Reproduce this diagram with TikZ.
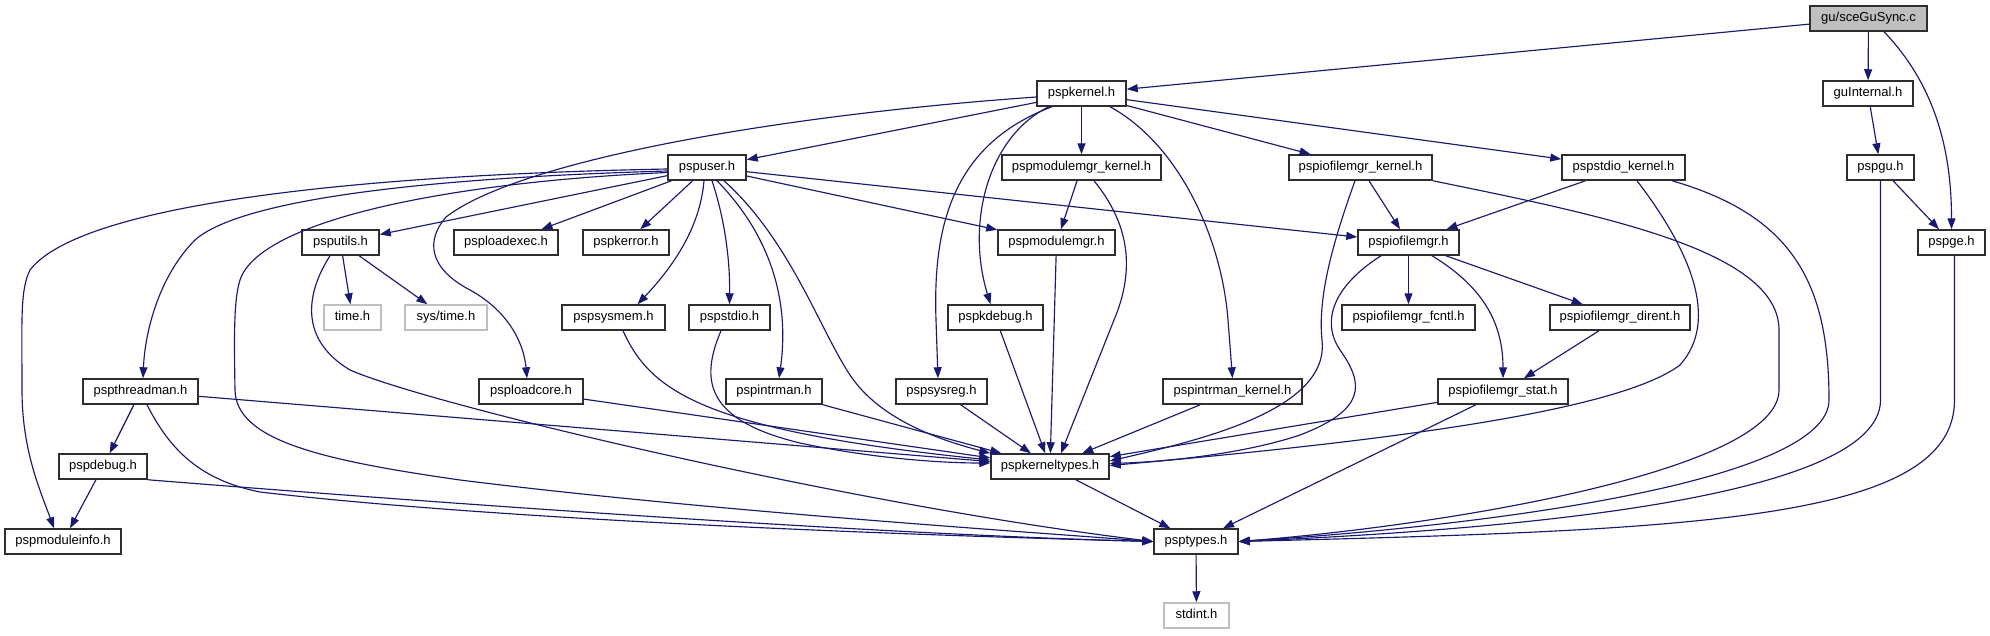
\documentclass[tikz,border=0pt]{standalone}
\usepackage{fontspec}
\setmainfont{Liberation Sans}
\usetikzlibrary{arrows.meta}
\definecolor{edgeblue}{HTML}{191970}
\definecolor{rootgray}{HTML}{BFBFBF}
\definecolor{boxline}{HTML}{2E2E2E}
\begin{document}
\begin{tikzpicture}[x=1pt,y=-1pt,
  box/.style={draw=boxline,line width=1.5pt,fill=white,minimum height=25pt,inner sep=0pt,
    font=\fontsize{13pt}{15pt}\selectfont,text height=9.4pt,text depth=2.7pt},
  extbox/.style={box,draw=rootgray},
  rootbox/.style={box,fill=rootgray},
  edge/.style={draw=edgeblue,line width=1.15pt,-{Triangle[length=11pt,width=8pt]}}]
\useasboundingbox (0,0) rectangle (1990,635);

% row 0
\node[rootbox,minimum width=117pt] (root) at (1868.5,18.5) {gu/sceGuSync.c};
% row 1
\node[box,minimum width=90pt] (guint) at (1868,93.5) {guInternal.h};
\node[box,minimum width=89pt] (kernel) at (1081.5,93.5) {pspkernel.h};
% row 2
\node[box,minimum width=78pt] (user) at (707,167.5) {pspuser.h};
\node[box,minimum width=159pt] (modk) at (1081.5,167.5) {pspmodulemgr\_kernel.h};
\node[box,minimum width=143pt] (iofk) at (1360.5,167.5) {pspiofilemgr\_kernel.h};
\node[box,minimum width=123pt] (stdiok) at (1623.5,167.5) {pspstdio\_kernel.h};
\node[box,minimum width=67pt] (pspgu) at (1880.5,167.5) {pspgu.h};
% row 3
\node[box,minimum width=77pt] (utils) at (340.5,242.5) {psputils.h};
\node[box,minimum width=104pt] (loadexec) at (506,242.5) {psploadexec.h};
\node[box,minimum width=86pt] (kerror) at (626,242.5) {pspkerror.h};
\node[box,minimum width=117pt] (modmgr) at (1056.5,242.5) {pspmodulemgr.h};
\node[box,minimum width=101pt] (iofm) at (1408.5,242.5) {pspiofilemgr.h};
\node[box,minimum width=67pt] (pspge) at (1951.5,242.5) {pspge.h};
% row 4
\node[extbox,minimum width=57pt] (time) at (352.5,317.5) {time.h};
\node[extbox,minimum width=82pt] (systime) at (446,317.5) {sys/time.h};
\node[box,minimum width=103pt] (sysmem) at (613.5,317.5) {pspsysmem.h};
\node[box,minimum width=81pt] (stdio) at (729.5,317.5) {pspstdio.h};
\node[box,minimum width=95pt] (kdebug) at (995.5,317.5) {pspkdebug.h};
\node[box,minimum width=133pt] (fcntl) at (1408.5,317.5) {pspiofilemgr\_fcntl.h};
\node[box,minimum width=140pt] (dirent) at (1620,317.5) {pspiofilemgr\_dirent.h};
% row 5
\node[box,minimum width=115pt] (thread) at (140.5,391.5) {pspthreadman.h};
\node[box,minimum width=104pt] (loadcore) at (531,391.5) {psploadcore.h};
\node[box,minimum width=96pt] (intrman) at (774,391.5) {pspintrman.h};
\node[box,minimum width=91pt] (sysreg) at (941.5,391.5) {pspsysreg.h};
\node[box,minimum width=139pt] (intrk) at (1232.5,391.5) {pspintrman\_kernel.h};
\node[box,minimum width=130pt] (stat) at (1503,391.5) {pspiofilemgr\_stat.h};
% row 6
\node[box,minimum width=88pt] (debug) at (103,466.5) {pspdebug.h};
\node[box,minimum width=118pt] (ktypes) at (1050,466.5) {pspkerneltypes.h};
% row 7
\node[box,minimum width=116pt] (modinfo) at (63,541.5) {pspmoduleinfo.h};
\node[box,minimum width=84pt] (types) at (1196,541.5) {psptypes.h};
% row 8
\node[extbox,minimum width=65pt] (stdint) at (1196.5,615.5) {stdint.h};

% straight connectors
\draw[edge] (root) -- (kernel);
\draw[edge] (root) -- (guint);
\draw[edge] (guint) -- (pspgu);
\draw[edge] (pspgu) -- (pspge);
\draw[edge] (kernel) -- (user);
\draw[edge] (kernel) -- (modk);
\draw[edge] (kernel) -- (iofk);
\draw[edge] (kernel) -- (stdiok);
\draw[edge] (modk) -- (modmgr);
\draw[edge] (modmgr) -- (ktypes);
\draw[edge] (kdebug) -- (ktypes);
\draw[edge] (sysreg) -- (ktypes);
\draw[edge] (intrk) -- (ktypes);
\draw[edge] (intrman) -- (ktypes);
\draw[edge] (thread) -- (ktypes);
\draw[edge] (loadcore) -- (ktypes);
\draw[edge] (user) -- (utils);
\draw[edge] (user) -- (loadexec);
\draw[edge] (user) -- (kerror);
\draw[edge] (user) -- (modmgr);
\draw[edge] (user) -- (iofm);
\draw[edge] (utils) -- (time);
\draw[edge] (utils) -- (systime);
\draw[edge] (thread) -- (debug);
\draw[edge] (debug) -- (modinfo);
\draw[edge] (iofk) -- (iofm);
\draw[edge] (stdiok) -- (iofm);
\draw[edge] (iofm) -- (fcntl);
\draw[edge] (iofm) -- (dirent);
\draw[edge] (dirent) -- (stat);
\draw[edge] (stat) -- (ktypes);
\draw[edge] (stat) -- (types);
\draw[edge] (ktypes) -- (types);
\draw[edge] (types) -- (stdint);

% curved connectors
\draw[edge] ([xshift=15.5pt]root.south) .. controls (1935,85) and (1951.5,150) .. (pspge.north);
\draw[edge] (pspgu.south) -- (1880.5,400) .. controls (1880.5,500) and (1500,530) .. (types.east);
\draw[edge] ([xshift=3pt]pspge.south) -- (1954.5,400) .. controls (1954.5,520) and (1700,530) .. (types.east);
\draw[edge] ([xshift=48.5pt]stdiok.south) .. controls (1790,215) and (1829,280) .. (1829,400) .. controls (1829,480) and (1500,525) .. (types.east);
\draw[edge] (iofk.south east) .. controls (1600,215) and (1779,250) .. (1779,330) -- (1779,390) .. controls (1779,470) and (1450,525) .. (types.east);

\draw[edge] ([yshift=-3.5pt]kernel.west) .. controls (780,115) and (520,160) .. (446,217) .. controls (426,240) and (428,268) .. (470,290) .. controls (510,312) and (524,345) .. ([xshift=-4pt]loadcore.north);
\draw[edge] ([xshift=-29.5pt]kernel.south) .. controls (950,145) and (933,230) .. (936,320) -- ([xshift=-3.5pt]sysreg.north);
\draw[edge] ([xshift=-32.5pt]kernel.south) .. controls (990,135) and (965,220) .. ([xshift=-5pt]kdebug.north);
\draw[edge] ([xshift=28.5pt]kernel.south) .. controls (1180,145) and (1222,240) .. (1228,320) -- (intrk.north);
\draw[edge] ([xshift=12.5pt]modk.south) .. controls (1130,225) and (1135,270) .. (1114,320) -- ([xshift=11pt]ktypes.north);

\draw[edge] ([xshift=-8.5pt]stdio.south) .. controls (700,380) and (705,420) .. (800,443) .. controls (880,460) and (950,463) .. ([yshift=3.5pt]ktypes.west);
\draw[edge] ([xshift=17pt]user.south) .. controls (790,240) and (820,330) .. (850,375) .. controls (880,420) and (940,440) .. (ktypes.north west);
\draw[edge] ([xshift=9.5pt]sysmem.south) .. controls (650,390) and (700,430) .. ([yshift=6.5pt]ktypes.west);

\draw[edge] ([yshift=-1.5pt]user.west) .. controls (350,175) and (80,205) .. (30,270) .. controls (20,290) and (22,320) .. (22,390) .. controls (22,450) and (40,490) .. ([xshift=-9pt]modinfo.north);
\draw[edge] ([yshift=-3.5pt]user.west) .. controls (420,178) and (240,200) .. (195,240) .. controls (160,275) and (145,330) .. ([xshift=2.5pt]thread.north);
\draw[edge] ([yshift=-5pt]user.west) .. controls (450,182) and (260,220) .. (240,280) .. controls (234,300) and (234,330) .. (235,390) .. controls (236,440) and (320,460) .. (460,480) .. controls (700,510) and (1000,530) .. (types.west);

\draw[edge] ([xshift=-3pt]user.south) .. controls (700,230) and (670,270) .. ([xshift=24pt]sysmem.north);
\draw[edge] ([xshift=5pt]user.south) .. controls (725,220) and (730,260) .. (stdio.north);
\draw[edge] ([xshift=10pt]user.south) .. controls (770,235) and (790,300) .. ([xshift=5pt]intrman.north);

\draw[edge] ([xshift=-10.5pt]utils.south) .. controls (305,295) and (300,340) .. (350,370) .. controls (430,405) and (850,505) .. (types.west);
\draw[edge] ([xshift=6.5pt]thread.south) .. controls (170,450) and (200,480) .. (260,492) .. controls (500,520) and (900,535) .. (types.west);
\draw[edge] (debug.south east) .. controls (500,508) and (900,535) .. (types.west);

\draw[edge] ([xshift=-5.5pt]iofk.south) .. controls (1330,250) and (1318,300) .. (1322,340) .. controls (1330,410) and (1200,440) .. ([yshift=5.5pt]ktypes.east);
\draw[edge] ([xshift=13.5pt]stdiok.south) .. controls (1690,250) and (1720,320) .. (1680,365) .. controls (1620,410) and (1400,440) .. ([yshift=1pt]ktypes.east);
\draw[edge] ([xshift=23.5pt]iofm.south) .. controls (1480,285) and (1503,320) .. (stat.north);
\draw[edge] ([xshift=-27.5pt]iofm.south) .. controls (1335,285) and (1320,320) .. (1340,350) .. controls (1365,385) and (1365,410) .. (1300,435) .. controls (1240,455) and (1160,462) .. ([yshift=3pt]ktypes.east);
\end{tikzpicture}
\end{document}
